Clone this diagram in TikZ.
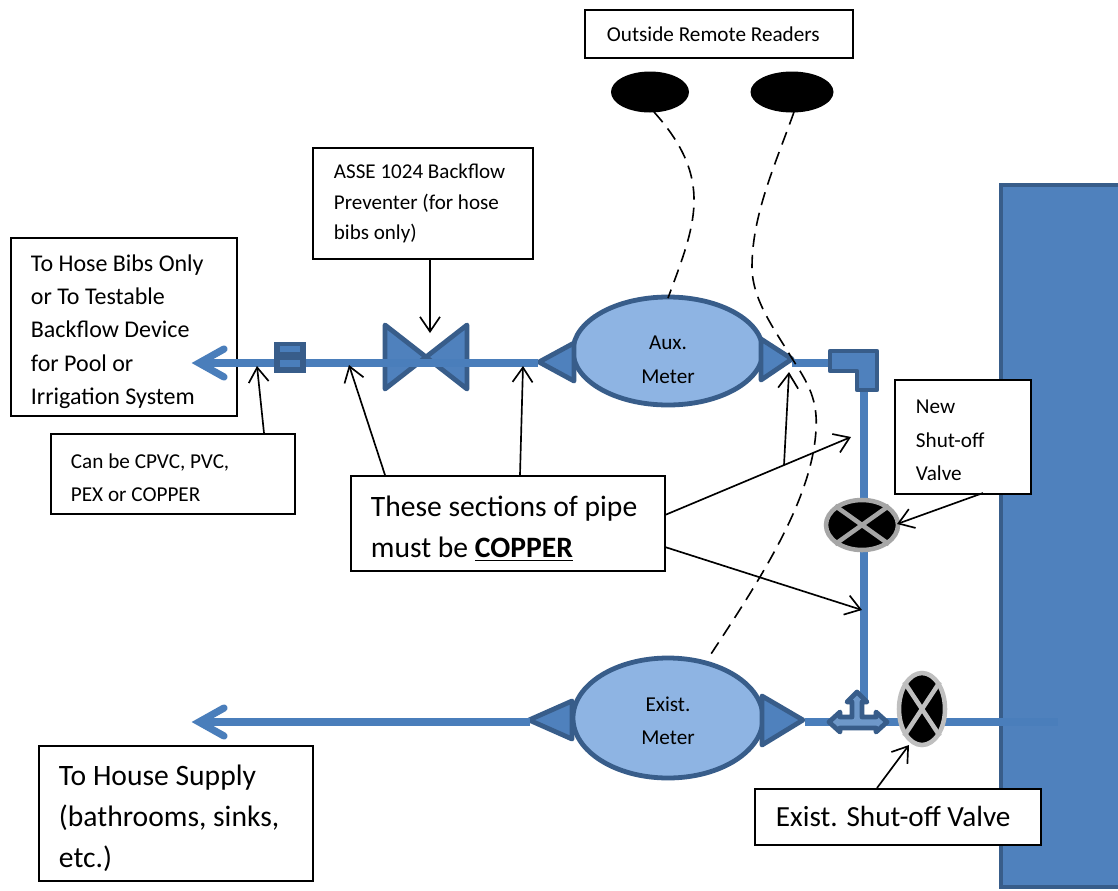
\documentclass[tikz,border=0pt]{standalone}
\usepackage{fontspec}
\setmainfont{Carlito}
\usetikzlibrary{arrows.meta,shapes.geometric}
\definecolor{pipeblue}{HTML}{4A7EBB}
\definecolor{fillblue}{HTML}{4F81BD}
\definecolor{edgeblue}{HTML}{385D8A}
\definecolor{meterblue}{HTML}{8EB4E3}
\newcommand{\smalltext}{\fontsize{15.9}{25}\selectfont}
\newcommand{\assetext}{\fontsize{15.8}{22.8}\selectfont}
\newcommand{\midtext}{\fontsize{18}{25}\selectfont}
\newcommand{\largetext}{\fontsize{22.2}{31}\selectfont}
\newcommand{\toppad}[1]{\rule{0pt}{#1}}
\tikzset{
  x=0.75pt,y=-0.75pt,
  box/.style={draw=black,line width=1.4pt,fill=white,rectangle,anchor=north west,align=flush left,inner ysep=0pt},
  pipe/.style={draw=pipeblue,line width=5.4pt},
  headline/.style={draw=pipeblue,line width=5.4pt,line cap=round,miter limit=10},
  fitting/.style={draw=edgeblue,fill=fillblue,line width=3.6pt,line join=round},
  meter/.style={ellipse,draw=edgeblue,fill=meterblue,line width=3.6pt,inner sep=0pt,align=center,font=\smalltext},
  callout/.style={draw=black,line width=1.25pt,-{Straight Barb[length=11pt,width=15pt,line width=1.25pt]}},
  dashline/.style={draw=black,line width=1.2pt,dash pattern=on 10pt off 6pt},
  reader/.style={ellipse,fill=black,inner sep=0pt}
}
\begin{document}
\begin{tikzpicture}
\useasboundingbox (0,0) rectangle (1118,890);
\fill[white] (0,0) rectangle (1118,890);
% building
\draw[draw=edgeblue,fill=fillblue,line width=3.6pt] (1001,185) -- (1125,185) -- (1125,887) -- (1001,887) -- cycle;

% reference points
\coordinate (hosetip) at (199,363);
\coordinate (hosetipR) at (830,363);
\coordinate (elbowBot) at (864,390);
\coordinate (teeTop) at (864,700);
\coordinate (housetip) at (199,722);
\coordinate (housepipeR) at (530,722);
\coordinate (mainR) at (1058,722);
\coordinate (mainL) at (805,722);

% hose box first (pipe passes over it)
\node[box,minimum width=226*0.75pt,minimum height=178*0.75pt,text width=186*0.75pt,inner xsep=20*0.75pt,font=\midtext] (hose) at (10,237) {\toppad{19.5pt}To Hose Bibs Only\\or To Testable\\Backflow Device\\for Pool or\\Irrigation System};

% bowtie valve
\draw[fitting] (385,325) -- (385,389) -- (467,325) -- (467,389) -- cycle;

% meters
\node[meter,minimum width=190*0.75pt,minimum height=108*0.75pt] (aux) at (668,351) {\raisebox{-11pt}[0pt][0pt]{\parbox{60pt}{\centering Aux.\\Meter}}};
\node[meter,minimum width=190*0.75pt,minimum height=120*0.75pt] (exist) at (668,718) {\toppad{15pt}Exist.\\Meter};

% meter triangles
\draw[fitting] (574,343) -- (574,381) -- (539,362) -- cycle;
\draw[fitting] (761,339) -- (761,380) -- (792,359) -- cycle;
\draw[fitting] (572,701) -- (572,739) -- (529,720) -- cycle;
\draw[fitting] (762,696) -- (762,745) -- (803,720) -- cycle;

% pipes
\draw[pipe] (hosetip) -- (538,363);
\draw[pipe] (792,363) -- (hosetipR);
\draw[headline] (224,349) -- (hosetip) -- (224,377);
\draw[pipe] (elbowBot) -- (teeTop);
\draw[pipe] (housetip) -- (housepipeR);
\draw[headline] (224,708) -- (housetip) -- (224,736);
\draw[pipe] (mainL) -- (mainR);

% coupling
\node[rectangle,fill=edgeblue,minimum width=32*0.75pt,minimum height=31*0.75pt,inner sep=0pt] (coupling) at (290,357) {};
\fill[pipeblue] (280,346) rectangle (300,352);
\fill[pipeblue] (280,360) rectangle (300,367);

% elbow
\draw[fitting] (830,351) -- (877,351) -- (877,390) -- (857,390) -- (857,371) -- (830,371) -- cycle;

% tee
\draw[fitting,fill=pipeblue!80!white] (829,722) -- (840,712) -- (840,717) -- (852,717) -- (852,702) -- (847,702) -- (857,692) -- (867,702) -- (862,702) -- (862,717) -- (876,717) -- (876,712) -- (887,722) -- (876,732) -- (876,728) -- (840,728) -- (840,732) -- cycle;

% shut-off valves
\node[ellipse,draw=gray!70,fill=black,line width=3.4pt,minimum width=72*0.75pt,minimum height=50*0.75pt,inner sep=0pt] (newvalve) at (862,525) {};
\draw[draw=gray!70,line width=3.4pt] (newvalve.north west) -- (newvalve.south east);
\draw[draw=gray!70,line width=3.4pt] (newvalve.north east) -- (newvalve.south west);
\node[ellipse,draw=gray!50,fill=black,line width=3.4pt,minimum width=46*0.75pt,minimum height=72*0.75pt,inner sep=0pt] (oldvalve) at (922,709) {};
\draw[draw=gray!50,line width=3.4pt] (oldvalve.north west) -- (oldvalve.south east);
\draw[draw=gray!50,line width=3.4pt] (oldvalve.north east) -- (oldvalve.south west);

% readers
\node[reader,minimum width=78*0.75pt,minimum height=41*0.75pt] (r1) at (650,92) {};
\node[reader,minimum width=83*0.75pt,minimum height=41*0.75pt] (r2) at (792,92) {};

% dashed wires
\draw[dashline] (654,112) .. controls (715,180) and (695,225) .. (668,298);
\draw[dashline] (794,112) .. controls (775,165) and (752,215) .. (752,267) .. controls (752,300) and (775,330) .. (793,360) .. controls (808,383) and (818,400) .. (816,430) .. controls (812,500) and (760,580) .. (707,660);

% boxes
\node[box,minimum width=268*0.75pt,minimum height=48*0.75pt,text width=224*0.75pt,inner xsep=22*0.75pt,font=\smalltext] (outside) at (584,9) {Outside Remote Readers};
\node[box,minimum width=220*0.75pt,minimum height=111*0.75pt,text width=178*0.75pt,inner xsep=21*0.75pt,font=\assetext] (asse) at (312,147) {ASSE 1024 Backflow\\Preventer (for hose\\bibs only)};
\node[box,minimum width=244*0.75pt,minimum height=80*0.75pt,text width=204*0.75pt,inner xsep=20*0.75pt,font=\smalltext] (can) at (50,433) {\toppad{16.4pt}Can be CPVC, PVC,\\PEX or COPPER};
\node[box,minimum width=314*0.75pt,minimum height=95*0.75pt,text width=274*0.75pt,inner xsep=20*0.75pt,font=\largetext] (these) at (350,475) {\toppad{22.8pt}These sections of pipe\\must be \textbf{\underline{COPPER}}};
\node[box,minimum width=136*0.75pt,minimum height=114*0.75pt,text width=94*0.75pt,inner xsep=21*0.75pt,font=\smalltext] (newbox) at (894,379) {\toppad{15.6pt}New\\Shut-off\\Valve};
\node[box,minimum width=286*0.75pt,minimum height=56*0.75pt,text width=244*0.75pt,inner xsep=21*0.75pt,font=\fontsize{21.9}{31}\selectfont] (existbox) at (754,788) {Exist. Shut-off Valve};
\node[box,minimum width=274*0.75pt,minimum height=135*0.75pt,text width=234*0.75pt,inner xsep=20*0.75pt,font=\largetext] (house) at (38,745) {\toppad{22.8pt}To House Supply\\(bathrooms, sinks,\\etc.)};

% callouts
\coordinate (pA) at (430,333);
\coordinate (pB) at (257,366);
\coordinate (pC) at (349,365);
\coordinate (pD) at (523,366);
\coordinate (pE) at (851,437);
\coordinate (pF) at (789,372);
\coordinate (pFs) at (784,465);
\coordinate (pG) at (862,610);
\draw[callout] (asse.south -| pA) -- (pA);
\draw[callout] (264,433) -- (pB);
\draw[callout] (385,475) -- (pC);
\draw[callout] (520,475) -- (pD);
\draw[callout] (665,515) -- (pE);
\draw[callout] (pFs) -- (pF);
\draw[callout] (665,547) -- (pG);
\draw[callout] (983,493) -- (897,524);
\draw[callout] (877,788) -- (909,745);
\end{tikzpicture}
\end{document}
